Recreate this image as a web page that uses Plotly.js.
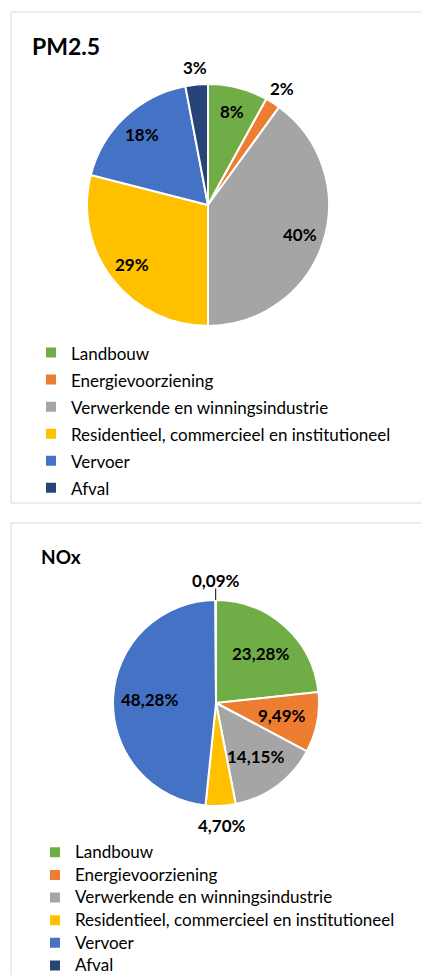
<!DOCTYPE html>
<html>
<head>
<meta charset="utf-8">
<script src="https://cdn.plot.ly/plotly-3.0.1.min.js"></script>
<style>
  html, body { margin: 0; padding: 0; background: #fff; overflow: hidden; }
  .chart { width: 421px; }
</style>
</head>
<body>
<div class="chart" id="pm25-chart"></div>
<div class="chart" id="nox-chart"></div>
<script>
// sectors, same order in both charts
const sectors = [
    "Landbouw",
    "Energievoorziening",
    "Verwerkende en winningsindustrie",
    "Residentieel, commercieel en institutioneel",
    "Vervoer",
    "Afval"
];
const sectorColors = ["#70AD47", "#ED7D31", "#A5A5A5", "#FFC000", "#4472C4", "#264478"];

// share per sector (%)
const pm25Values = [8, 2, 40, 29, 18, 3];
const noxValues = [23.28, 9.49, 14.15, 4.70, 48.28, 0.09];

const W = 421;

/*
Function: drawPie()
Parameters:
    "element" - id of the div to draw in
    "values" - share per sector
    "opts" - sizes and positions for this panel (pixels inside the div)
Notes: slice labels are placed along each slice's middle angle, like the spreadsheet does.
*/
function drawPie(element, values, opts) {
    const H = opts.height;
    const px = (x) => x / W;
    const py = (y) => 1 - y / H;

    const cx = opts.cx, cy = opts.cy, r = opts.r;
    const total = values.reduce((a, b) => a + b, 0);

    // slice labels from the data: inside for big slices, outside for small ones
    const annotations = [];
    const shapes = [];
    let cum = 0;
    values.forEach((v, i) => {
        const mid = (cum + v / 2) / total * 2 * Math.PI;
        cum += v;
        const outside = v / total < 0.05;
        const f = outside ? opts.outR : opts.inR;
        annotations.push({
            text: opts.format(v),
            xref: "paper", yref: "paper",
            x: px(cx + f * r * Math.sin(mid)),
            y: py(cy - f * r * Math.cos(mid)),
            xanchor: "center", yanchor: "middle", showarrow: false,
            font: { family: "Lato", size: 17, weight: "bold", color: "#000" }
        });
        // leader line for very thin slices
        if (v / total < 0.005) {
            shapes.push({
                type: "line", xref: "paper", yref: "paper",
                x0: px(cx + r * Math.sin(mid)), y0: py(cy - r * Math.cos(mid)),
                x1: px(cx + 1.11 * r * Math.sin(mid)), y1: py(cy - 1.11 * r * Math.cos(mid)),
                line: { color: "#000", width: 1 }
            });
        }
    });

    annotations.push({
        text: opts.title, xref: "paper", yref: "paper",
        x: px(opts.titleX), y: py(opts.titleY),
        xanchor: "left", yanchor: "middle", showarrow: false,
        font: { family: "Lato", size: opts.titleSize, weight: "bold", color: "#000" }
    });

    // chart-area border (runs off the right edge)
    shapes.unshift({
        type: "rect", xref: "paper", yref: "paper",
        x0: px(11), x1: 1.02, y0: py(opts.boxBottom), y1: py(opts.boxTop),
        line: { color: "#D9D9D9", width: 1 }
    });

    const trace = {
        type: "pie",
        // legend text drawn at 17px, legend font size only sets the row spacing
        labels: sectors.map((s) => `<span style="font-size:17px">${s}</span>`),
        values: values,
        sort: false,
        direction: "clockwise",
        rotation: 0,
        marker: { colors: sectorColors, line: { color: "#fff", width: 2 } },
        textinfo: "none",
        hoverinfo: "label+percent",
        domain: { x: [px(cx - r), px(cx + r)], y: [py(cy + r), py(cy - r)] },
        automargin: false
    };

    const layout = {
        width: W,
        height: H,
        margin: { l: 0, r: 0, t: 0, b: 0 },
        paper_bgcolor: "#fff",
        font: { family: "Lato", color: "#000" },
        showlegend: true,
        legend: {
            x: px(opts.legendX), y: py(opts.legendY),
            xanchor: "left", yanchor: "top",
            bgcolor: "rgba(0,0,0,0)",
            traceorder: "normal",
            font: { family: "Lato", size: opts.legendRow, color: "#000" }
        },
        annotations: annotations,
        shapes: shapes
    };

    Plotly.newPlot(element, [trace], layout, { displayModeBar: false, staticPlot: true });
}

drawPie("pm25-chart", pm25Values, {
    height: 513, boxTop: 12, boxBottom: 503,
    cx: 208, cy: 205, r: 121, inR: 0.8, outR: 1.14,
    title: "PM2.5", titleX: 30, titleY: 46, titleSize: 23,
    legendX: 31, legendY: 334, legendRow: 18.5,
    format: (v) => `${v}%`
});

// lower panel continues past the bottom of the picture
drawPie("nox-chart", noxValues, {
    height: 500, boxTop: 10, boxBottom: 520,
    cx: 216, cy: 190, r: 103, inR: 0.65, outR: 1.19,
    title: "NOx", titleX: 39, titleY: 44, titleSize: 19,
    legendX: 35, legendY: 323, legendRow: 15.1,
    format: (v) => `${v.toFixed(2).replace(".", ",")}%`
});
</script>
</body>
</html>
